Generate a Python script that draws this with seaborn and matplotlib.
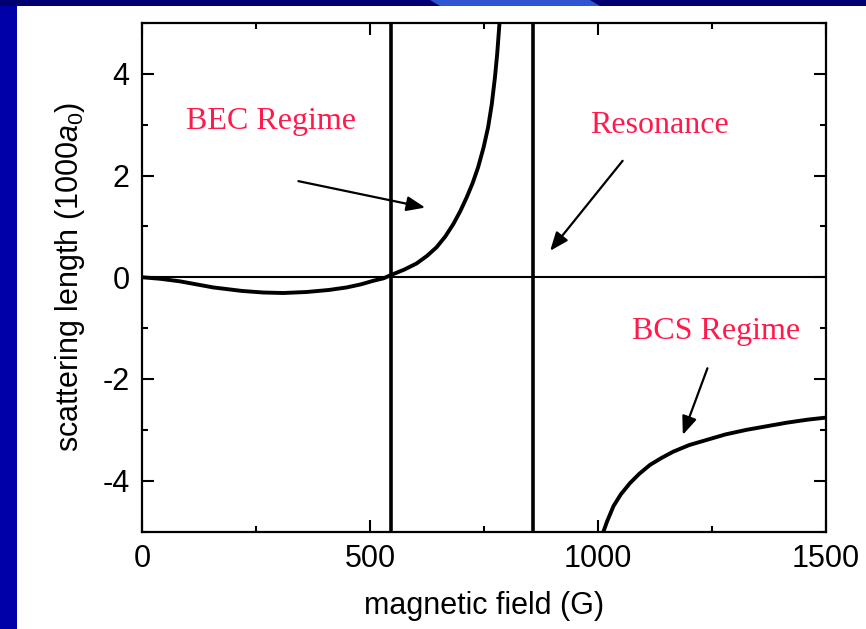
import matplotlib
matplotlib.use("Agg")
import matplotlib.pyplot as plt
import matplotlib.patches as mpatches
import seaborn as sns
import pandas as pd

# ---- data ----
bec_field = [0, 40, 83, 156, 220, 266, 310, 361, 410, 449, 480, 507, 530, 545,
             575, 602, 625, 646, 665, 683, 698, 712, 725, 737, 749, 759, 767, 774, 779, 784]
bec_length = [0, -0.03, -0.08, -0.20, -0.27, -0.30, -0.31, -0.29, -0.25, -0.20, -0.14, -0.07, -0.02, 0.04,
              0.15, 0.27, 0.42, 0.59, 0.80, 1.05, 1.30, 1.57, 1.85, 2.16, 2.55, 2.95, 3.40, 3.93, 4.40, 5.0]
bcs_field = [1012, 1020, 1034, 1050, 1070, 1090, 1114, 1140, 1165, 1200, 1238, 1280, 1326, 1370, 1414, 1460, 1500]
bcs_length = [-5.0, -4.80, -4.50, -4.27, -4.05, -3.87, -3.69, -3.55, -3.43, -3.30, -3.20, -3.09, -3.00,
              -2.93, -2.86, -2.80, -2.76]
zero_crossing = 545
resonance = 857

labels = ["BEC Regime", "Resonance", "BCS Regime"]
label_pos = [(283, 3.06), (1135, 2.98), (1258, -1.07)]
arrow_start = [(343, 1.89), (1054, 2.29), (1240, -1.79)]
arrow_end = [(621, 1.37), (895, 0.52), (1186, -3.10)]

x_ticks = [0, 500, 1000, 1500]
y_ticks = [-4, -2, 0, 2, 4]
x_label = "magnetic field (G)"
y_label = r"scattering length (1000$\mathit{a}_0$)"

# ---- style ----
sns.set_theme(style="ticks")
plt.rcParams["font.family"] = ["Liberation Sans", "DejaVu Sans"]
plt.rcParams["mathtext.fontset"] = "custom"
plt.rcParams["mathtext.rm"] = "Liberation Sans"
plt.rcParams["mathtext.it"] = "Liberation Sans:italic"

W, H = 866, 629
fig = plt.figure(figsize=(W / 100, H / 100), dpi=100)
fig.patch.set_facecolor("white")

# slide decoration: blue strip on the left and top bar
fig.add_artist(mpatches.Rectangle((0, 0), 17 / W, 1, transform=fig.transFigure,
                                  facecolor="#0000A8", edgecolor="none", zorder=0))
fig.add_artist(mpatches.Rectangle((0, 1 - 6 / H), 1, 6 / H, transform=fig.transFigure,
                                  facecolor="#000070", edgecolor="none", zorder=0))
fig.add_artist(mpatches.Polygon([(430 / W, 1), (590 / W, 1), (600 / W, 1 - 6 / H), (440 / W, 1 - 6 / H)],
                                closed=True, transform=fig.transFigure,
                                facecolor="#2F55D4", edgecolor="none", zorder=0))

ax = fig.add_axes([142 / W, 1 - 531.5 / H, (826 - 142) / W, (531.5 - 23) / H])
ax.set_facecolor("white")

df_bec = pd.DataFrame({"field": bec_field, "length": bec_length})
df_bcs = pd.DataFrame({"field": bcs_field, "length": bcs_length})

ax.axhline(0, color="black", lw=1.5, zorder=2)
ax.axvline(zero_crossing, color="black", lw=2.6, zorder=3)
ax.axvline(resonance, color="black", lw=2.6, zorder=3)
sns.lineplot(data=df_bec, x="field", y="length", ax=ax, color="black", lw=2.8, sort=False, zorder=4)
sns.lineplot(data=df_bcs, x="field", y="length", ax=ax, color="black", lw=2.8, sort=False, zorder=4)

for s, e in zip(arrow_start, arrow_end):
    ax.annotate("", xy=e, xytext=s,
                arrowprops=dict(arrowstyle="-|>,head_length=0.7,head_width=0.28",
                                color="black", lw=1.6, mutation_scale=16,
                                shrinkA=0, shrinkB=0))
for t, (x, y) in zip(labels, label_pos):
    ax.text(x, y, t, color="#FF1A4B", fontsize=23, family=["Liberation Serif", "DejaVu Serif"],
            ha="center", va="center")

ax.set_xlim(0, 1500)
ax.set_ylim(-5, 5)
ax.set_xticks(x_ticks)
ax.set_yticks(y_ticks)
ax.set_xticks([250, 750, 1250], minor=True)
ax.set_yticks([-5, -3, -1, 1, 3, 5], minor=True)
ax.set_xticklabels([str(v) for v in x_ticks])
ax.set_yticklabels([str(v) for v in y_ticks])
ax.tick_params(which="both", direction="in", top=True, right=True, width=1.5, color="black")
ax.tick_params(which="major", length=8.5, labelsize=22, pad=9, labelcolor="black")
ax.tick_params(which="minor", length=4.5)
for sp in ax.spines.values():
    sp.set_linewidth(1.6)
    sp.set_color("black")
    sp.set_visible(True)

ax.set_xlabel(x_label, fontsize=22, color="black", labelpad=12)
ax.set_ylabel(y_label, fontsize=22, color="black", labelpad=11)

fig.savefig("out.png", dpi=100, facecolor=fig.get_facecolor())
